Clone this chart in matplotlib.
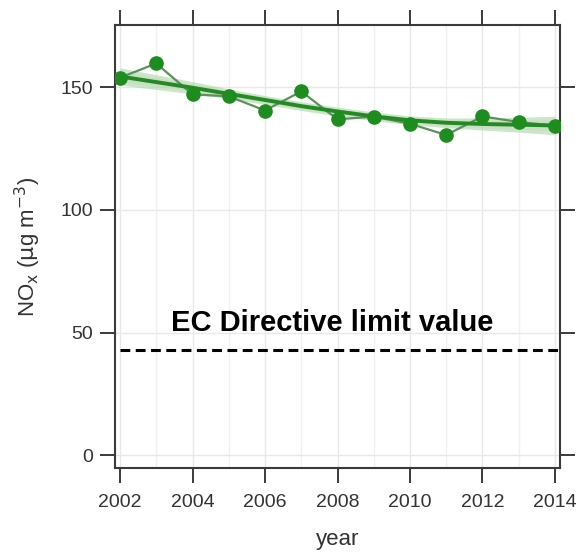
import numpy as np
import matplotlib
matplotlib.use("Agg")
import matplotlib.pyplot as plt
from matplotlib.ticker import MultipleLocator

plt.rcParams['font.family'] = ['Liberation Sans', 'DejaVu Sans']

# data
years = [2002, 2003, 2004, 2005, 2006, 2007, 2008, 2009, 2010, 2011, 2012, 2013, 2014]
nox = [154.0, 159.8, 147.2, 146.4, 140.6, 148.4, 137.0, 138.1, 135.2, 130.6, 138.2, 135.9, 134.4]
trend = [154.5, 152.2, 149.9, 147.4, 144.9, 142.4, 140.2, 138.2, 136.6, 135.6, 135.1, 134.8, 134.5]
band_half = [3.5, 3.0, 2.5, 2.0, 1.8, 1.8, 1.8, 1.8, 1.8, 2.0, 2.5, 3.0, 3.8]
limit_value = 43
limit_label = "EC Directive limit value"
x_ticks = [2002, 2004, 2006, 2008, 2010, 2012, 2014]
y_ticks = [0, 50, 100, 150]

frame_col = "#3a3a3a"
text_col = "#333333"

fig = plt.figure(figsize=(5.77, 5.52), dpi=100)
ax = fig.add_axes([115 / 577, 1 - 468 / 552, 445 / 577, 443 / 552])

yrs = np.array(years)
tr = np.array(trend)
bh = np.array(band_half)

ax.fill_between(yrs, tr - bh, tr + bh, color="#a9d8a3", alpha=0.6, lw=0, zorder=2)
ax.fill_between(yrs, tr - bh * 0.6, tr + bh * 0.6, color="#c8cec8", alpha=0.4, lw=0, zorder=2)
ax.plot(yrs, nox, color="#5f8f5f", lw=1.6, zorder=3)
ax.plot(yrs, tr, color="#228b22", lw=2.8, zorder=4)
ax.plot(yrs, nox, "o", color="#1e8c1e", ms=9.5, mec="#1e8c1e", zorder=5)

ax.plot([2002, 2014.14], [limit_value, limit_value], color="black", lw=2.2,
        ls=(0, (3.2, 1.8)), zorder=4, clip_on=False)
ax.text(2007.85, limit_value + 5, limit_label, ha="center", va="bottom",
        fontsize=21, fontweight="bold", color="black", zorder=6)

ax.set_xlim(2001.862, 2014.138)
ax.set_ylim(-5.3, 175.5)
ax.set_xticks(x_ticks)
ax.set_yticks(y_ticks)
ax.xaxis.set_minor_locator(MultipleLocator(1))
ax.grid(True, which="major", color="#e8e8e8", lw=1.0, zorder=0)
ax.grid(True, which="minor", axis="x", color="#f0f0f0", lw=1.0, zorder=0)
ax.set_axisbelow(True)

for s in ax.spines.values():
    s.set_color(frame_col)
    s.set_linewidth(1.5)

ax.tick_params(axis="both", which="major", direction="out", length=11, width=1.4,
               color=frame_col, labelcolor=text_col, labelsize=14,
               top=True, right=True, labeltop=False, labelright=False)
ax.tick_params(axis="x", which="major", pad=8)
ax.tick_params(axis="y", which="major", pad=5)
ax.tick_params(axis="x", which="minor", length=0)

ax.set_xlabel("year", fontsize=16, color=text_col, labelpad=13)
ax.set_ylabel(r"NO$_{\mathrm{x}}$ ($\mathrm{\mu}$g m$^{-3}$)", fontsize=16, color=text_col, labelpad=12)

fig.savefig("out.png", dpi=100)
